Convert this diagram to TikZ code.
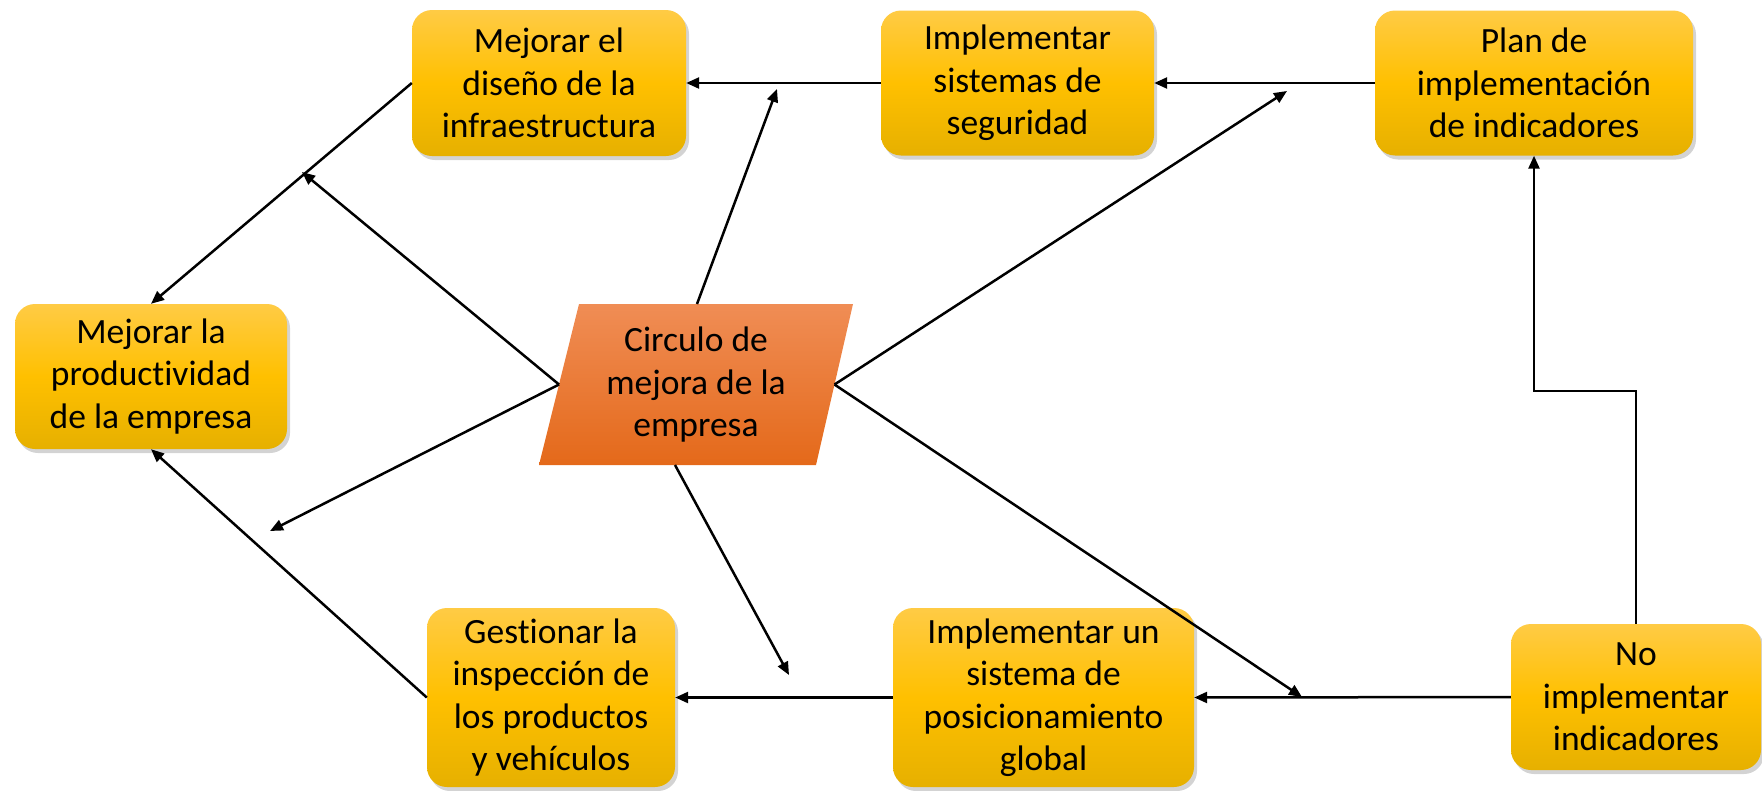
\documentclass[tikz,border=0pt]{standalone}
\usepackage{fontspec}
\setmainfont{Carlito}[Ligatures=NoCommon]
\usetikzlibrary{arrows.meta,shadows}
\definecolor{boxtop}{HTML}{FFCB45}
\definecolor{boxmid}{HTML}{FFC000}
\definecolor{boxbot}{HTML}{E6B000}
\definecolor{partop}{HTML}{F08D55}
\definecolor{parbot}{HTML}{E4691A}
\tikzset{
  box/.style={rounded corners=20pt, top color=boxtop, bottom color=boxbot, middle color=boxmid,
    draw=none, align=center, font=\fontsize{35.5}{42.5}\selectfont, inner sep=0pt,
    drop shadow={opacity=0.35, shadow xshift=3pt, shadow yshift=-4pt}},
  conn/.style={line width=2.5pt, draw=black, -{Triangle[length=13pt,width=11pt]}},
}
\begin{document}
\begin{tikzpicture}[x=1pt,y=-1pt]
\useasboundingbox (0,0) rectangle (1762,790);
% boxes
\node[box, minimum width=274pt, minimum height=146pt] (diseno) at (549,83) {Mejorar el\\diseño de la\\infraestructura};
\node[box, minimum width=273pt, minimum height=145pt] (seguridad) at (1017.5,83) {Implementar\\sistemas de\\seguridad};
\node[box, minimum width=318pt, minimum height=145pt] (plan) at (1534,83) {Plan de\\implementación\\de indicadores};
\node[box, minimum width=272pt, minimum height=145pt] (prod) at (151,376.5) {Mejorar la\\productividad\\de la empresa};
\node[box, minimum width=248pt, minimum height=179pt] (gestionar) at (551,697.5) {Gestionar la\\inspección de\\los productos\\y vehículos};
\node[box, minimum width=301pt, minimum height=179pt] (gps) at (1043.5,697.5) {Implementar un\\sistema de\\posicionamiento\\global};
\node[box, minimum width=250pt, minimum height=146pt] (noimpl) at (1636,697) {No\\implementar\\indicadores};
% parallelogram
\coordinate (ptl) at (579,304);
\coordinate (ptr) at (853,304);
\coordinate (pbr) at (816,465);
\coordinate (pbl) at (539,465);
\shade[top color=partop, bottom color=parbot] (ptl) -- (ptr) -- (pbr) -- (pbl) -- cycle;
\node[align=center, font=\fontsize{35.5}{42.5}\selectfont] (circulo) at (696,385) {Circulo de\\mejora de la\\empresa};
\coordinate (pleft) at (559,384.5);
\coordinate (pright) at (834.5,384.5);
\coordinate (ptop) at (697,304);
\coordinate (pbot) at (675,465);
% free ends
\coordinate (e1) at (302,172);
\coordinate (e2) at (270,531);
\coordinate (e3) at (777,89);
\coordinate (e4) at (1287,91);
\coordinate (e5) at (1302,697);
\coordinate (e6) at (789,675);
\coordinate (jogA) at (1636,391);
\coordinate (jogB) at (1534,391);
% connectors
\draw[conn] (seguridad.west) -- (diseno.east);
\draw[conn] (plan.west) -- (seguridad.east);
\draw[conn] (diseno.west) -- (prod.north);
\draw[conn] (gestionar.west) -- (prod.south);
\draw[conn] (gps.west) -- (gestionar.east);
\draw[conn] (noimpl.west) -- (gps.east);
\draw[conn] (noimpl.north) -- (jogA) -- (jogB) -- (plan.south);
\draw[conn] (pleft) -- (e1);
\draw[conn] (pleft) -- (e2);
\draw[conn] (ptop) -- (e3);
\draw[conn] (pright) -- (e4);
\draw[conn] (pright) -- (e5);
\draw[conn] (pbot) -- (e6);
\end{tikzpicture}
\end{document}
